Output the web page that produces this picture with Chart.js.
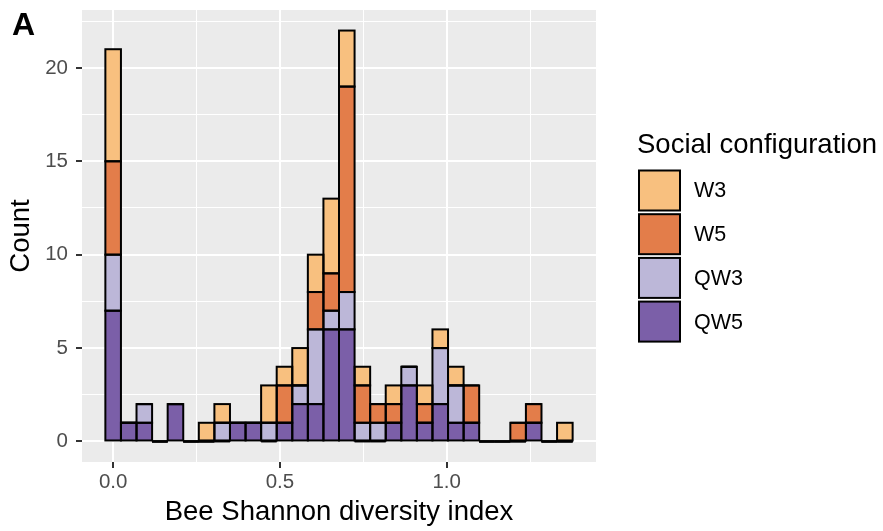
<!DOCTYPE html>
<html>
<head>
<meta charset="utf-8">
<title>Bee Shannon diversity index by social configuration</title>
<script src="https://cdn.jsdelivr.net/npm/chart.js@4/dist/chart.umd.min.js"></script>
<style>
  html, body { margin: 0; padding: 0; background: #ffffff; }
  #wrap { width: 883px; height: 531px; }
</style>
</head>
<body>
<div id="wrap"><canvas id="chart" width="883" height="531"></canvas></div>
<script>
// Histogram bins (centre of each bin on the diversity-index axis)
const binCenters = [0, 0.0467, 0.0934, 0.1401, 0.1868, 0.2335, 0.2802, 0.3269, 0.3736, 0.4203,
                    0.4670, 0.5137, 0.5604, 0.6071, 0.6538, 0.7005, 0.7472, 0.7939, 0.8406, 0.8873,
                    0.9340, 0.9807, 1.0274, 1.0741, 1.1208, 1.1675, 1.2142, 1.2609, 1.3076, 1.3543];

// Counts per bin for each social configuration (stacked bottom to top: QW5, QW3, W5, W3)
const countsQW5 = [7, 1, 1, 0, 2, 0, 0, 0, 1, 1, 0, 1, 2, 2, 6, 6, 0, 0, 1, 3, 1, 2, 1, 1, 0, 0, 0, 1, 0, 0];
const countsQW3 = [3, 0, 1, 0, 0, 0, 0, 1, 0, 0, 1, 0, 1, 4, 1, 2, 1, 1, 0, 1, 0, 3, 2, 0, 0, 0, 0, 0, 0, 0];
const countsW5  = [5, 0, 0, 0, 0, 0, 0, 0, 0, 0, 0, 2, 0, 2, 2, 11, 2, 1, 1, 0, 1, 0, 0, 2, 0, 0, 1, 1, 0, 0];
const countsW3  = [6, 0, 0, 0, 0, 0, 1, 1, 0, 0, 2, 1, 2, 2, 4, 3, 1, 0, 1, 0, 1, 1, 1, 0, 0, 0, 0, 0, 0, 1];

const seriesNames = ['QW5', 'QW3', 'W5', 'W3'];
const seriesColors = ['#7B5FA8', '#BCB7D8', '#E37D4A', '#F8C07F'];

// Axis ticks: labelled major ticks and unlabelled minor grid positions
const xMajorTicks = [0, 0.5, 1.0];
const xMinorTicks = [0.25, 0.75, 1.25];
const yMajorTicks = [0, 5, 10, 15, 20];
const yMinorTicks = [2.5, 7.5, 12.5, 17.5, 22.5];

const FONT = "'Liberation Sans', Arial, Helvetica, sans-serif";

const halfBin = (binCenters[1] - binCenters[0]) / 2;
const binLo = binCenters[0] - halfBin;
const binHi = binCenters[binCenters.length - 1] + halfBin;
const allTotals = binCenters.map((_, i) => countsQW5[i] + countsQW3[i] + countsW5[i] + countsW3[i]);
const yMaxCount = Math.max(...allTotals);
// 5% expansion on both axes
const xPad = (binHi - binLo) * 0.05;
const yPad = yMaxCount * 0.05;

const isIn = (arr, v) => arr.some(a => Math.abs(a - v) < 1e-9);
const tickIsMajor = (ctx, arr) => !!(ctx && ctx.tick && isIn(arr, ctx.tick.value));

function toPoints(counts) {
  return binCenters.map((x, i) => ({ x: x, y: counts[i] }));
}

const seriesCounts = [countsQW5, countsQW3, countsW5, countsW3];
const barSets = seriesNames.map((name, k) => ({
  label: name,
  data: toPoints(seriesCounts[k]),
  backgroundColor: seriesColors[k],
  borderWidth: 0,
  barPercentage: 1,
  categoryPercentage: 1,
  stack: 'bins'
}));

// Grey panel behind the plot area
const panelPlugin = {
  id: 'panel',
  beforeDraw(chart) {
    const { ctx, chartArea: a } = chart;
    ctx.save();
    ctx.fillStyle = '#ffffff';
    ctx.fillRect(0, 0, chart.width, chart.height);
    ctx.fillStyle = '#EBEBEB';
    ctx.fillRect(a.left, a.top, a.right - a.left, a.bottom - a.top);
    ctx.restore();
  }
};

// Black outline around every stacked segment; empty bins show as a flat line
const outlinePlugin = {
  id: 'outline',
  afterDatasetsDraw(chart) {
    const ctx = chart.ctx;
    ctx.save();
    ctx.strokeStyle = '#000000';
    ctx.lineWidth = 2;
    chart.getSortedVisibleDatasetMetas().forEach(meta => {
      if (meta.type !== 'bar') return;
      meta.data.forEach(el => {
        const p = el.getProps(['x', 'y', 'base', 'width'], true);
        const left = p.x - p.width / 2;
        const h = Math.abs(p.base - p.y);
        if (h < 0.5) {
          ctx.beginPath();
          ctx.moveTo(left, p.base);
          ctx.lineTo(left + p.width, p.base);
          ctx.stroke();
        } else {
          ctx.strokeRect(left, Math.min(p.y, p.base), p.width, h);
        }
      });
    });
    ctx.restore();
  }
};

// Legend on the right and panel tag
const legendPlugin = {
  id: 'sideLegend',
  afterDraw(chart) {
    const ctx = chart.ctx;
    ctx.save();
    ctx.fillStyle = '#000000';
    ctx.textAlign = 'left';
    ctx.textBaseline = 'alphabetic';
    ctx.font = 'bold 32px ' + FONT;
    ctx.fillText('A', 12, 35);

    ctx.font = '27.5px ' + FONT;
    ctx.fillText('Social configuration', 637, 153);

    const sets = chart.data.datasets.slice().reverse();
    const boxX = 639, boxW = 41, boxH = 40, top = 170.5, step = 43.7;
    ctx.font = '21.5px ' + FONT;
    ctx.textBaseline = 'middle';
    sets.forEach((d, i) => {
      const y = top + i * step;
      ctx.fillStyle = d.backgroundColor;
      ctx.fillRect(boxX, y, boxW, boxH);
      ctx.strokeStyle = '#000000';
      ctx.lineWidth = 2;
      ctx.strokeRect(boxX, y, boxW, boxH);
      ctx.fillStyle = '#000000';
      ctx.fillText(d.label, 694, y + boxH / 2 + 1);
    });
    ctx.restore();
  }
};

const gridColor = '#FFFFFF';
const tickMarkColor = '#333333';

new Chart(document.getElementById('chart'), {
  type: 'bar',
  data: { datasets: barSets },
  options: {
    responsive: false,
    animation: false,
    devicePixelRatio: 1,
    layout: { padding: { top: 10, right: 287, bottom: 0, left: 0 } },
    plugins: {
      legend: { display: false },
      tooltip: { enabled: false }
    },
    scales: {
      x: {
        type: 'linear',
        stacked: true,
        offset: false,
        min: binLo - xPad,
        max: binHi + xPad,
        afterBuildTicks(scale) {
          scale.ticks = [...xMajorTicks, ...xMinorTicks].sort((a, b) => a - b).map(v => ({ value: v }));
        },
        afterFit(scale) {
          scale.height = 69;
          scale.paddingLeft = 0;
          scale.paddingRight = 0;
        },
        border: { display: false },
        grid: {
          offset: false,
          color: gridColor,
          lineWidth: ctx => tickIsMajor(ctx, xMajorTicks) ? 2 : 1,
          tickColor: ctx => tickIsMajor(ctx, xMajorTicks) ? tickMarkColor : 'rgba(0,0,0,0)',
          tickWidth: 2,
          tickLength: 6
        },
        ticks: {
          autoSkip: false,
          maxRotation: 0,
          padding: 2,
          color: '#4D4D4D',
          font: { family: FONT, size: 20.5 },
          callback: v => isIn(xMajorTicks, v) ? v.toFixed(1) : ''
        },
        title: {
          display: true,
          text: 'Bee Shannon diversity index',
          color: '#000000',
          font: { family: FONT, size: 27.5 },
          padding: { top: 0, bottom: 2 }
        }
      },
      y: {
        type: 'linear',
        stacked: true,
        min: -yPad,
        max: yMaxCount + yPad,
        afterBuildTicks(scale) {
          scale.ticks = [...yMajorTicks, ...yMinorTicks].sort((a, b) => a - b).map(v => ({ value: v }));
        },
        afterFit(scale) {
          scale.width = 82;
          scale.paddingTop = 0;
          scale.paddingBottom = 0;
        },
        border: { display: false },
        grid: {
          color: gridColor,
          lineWidth: ctx => tickIsMajor(ctx, yMajorTicks) ? 2 : 1,
          tickColor: ctx => tickIsMajor(ctx, yMajorTicks) ? tickMarkColor : 'rgba(0,0,0,0)',
          tickWidth: 2,
          tickLength: 6
        },
        ticks: {
          autoSkip: false,
          padding: 8,
          color: '#4D4D4D',
          font: { family: FONT, size: 20.5 },
          callback: v => isIn(yMajorTicks, v) ? String(v) : ''
        },
        title: {
          display: true,
          text: 'Count',
          color: '#000000',
          font: { family: FONT, size: 27.5 },
          padding: { top: 5, bottom: 0 }
        }
      }
    }
  },
  plugins: [panelPlugin, outlinePlugin, legendPlugin]
});
</script>
</body>
</html>
